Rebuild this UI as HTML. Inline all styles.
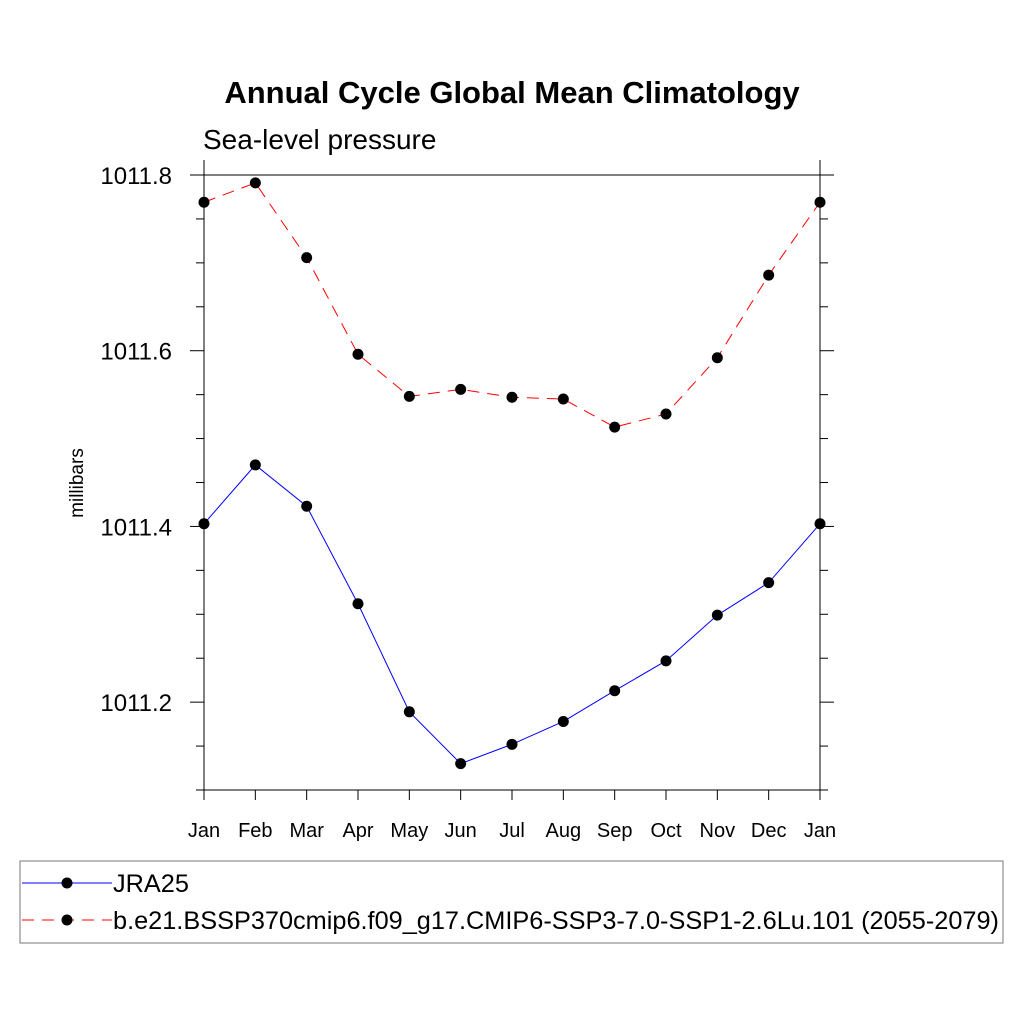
<!DOCTYPE html>
<html><head><meta charset="utf-8"><style>body{margin:0;background:#fff}svg{display:block}text{font-family:"Liberation Sans",sans-serif}</style></head>
<body>
<svg id="chart" width="1024" height="1024">
<text x="512" y="103" text-anchor="middle" font-size="31" font-weight="bold">Annual Cycle Global Mean Climatology</text>
<text x="203" y="149" font-size="28">Sea-level pressure</text>
<text transform="translate(83,483) rotate(-90)" text-anchor="middle" font-size="19">millibars</text>
<g id="axes"></g><g id="series"></g>
<rect x="20" y="861" width="983" height="82" fill="none" stroke="#777"/>
<line x1="22" y1="883" x2="112" y2="883" stroke="#00f"/>
<circle cx="67" cy="883" r="5.5"/>
<text x="113" y="892" font-size="25.3">JRA25</text>
<line x1="22" y1="920" x2="112" y2="920" stroke="#f00" stroke-dasharray="12,8"/>
<circle cx="67" cy="920" r="5.5"/>
<text x="113" y="929" font-size="25.3">b.e21.BSSP370cmip6.f09_g17.CMIP6-SSP3-7.0-SSP1-2.6Lu.101 (2055-2079)</text>
</svg>
<script>
const months=["Jan","Feb","Mar","Apr","May","Jun","Jul","Aug","Sep","Oct","Nov","Dec","Jan"];
const jra25=[1011.403,1011.470,1011.423,1011.312,1011.189,1011.130,1011.152,1011.178,1011.213,1011.247,1011.299,1011.336,1011.403];
const model=[1011.769,1011.791,1011.706,1011.596,1011.548,1011.556,1011.547,1011.545,1011.513,1011.528,1011.592,1011.686,1011.769];
const yTicks=[1011.2,1011.4,1011.6,1011.8];
const yMin=1011.1,yMax=1011.8,X0=204,X1=820,Y0=790,Y1=175;
const NS="http://www.w3.org/2000/svg";
const xs=i=>X0+(X1-X0)*i/(months.length-1);
const ys=v=>Y0-(v-yMin)/(yMax-yMin)*(Y0-Y1);
function mk(t,a,p){const e=document.createElementNS(NS,t);for(const k in a)e.setAttribute(k,a[k]);p.appendChild(e);return e;}
const ax=document.getElementById('axes'),sr=document.getElementById('series');
const frame=mk('rect',{x:X0,y:Y1,width:X1-X0,height:Y0-Y1,fill:'none',stroke:'#000','stroke-width':1},ax);


for(let v=yMin;v<=yMax+1e-9;v+=0.05){
  const y=ys(v);const maj=yTicks.some(t=>Math.abs(t-v)<1e-6);const L=maj?14:8;
  mk('line',{x1:X0-L,y1:y,x2:X0,y2:y,stroke:'#000'},ax);
  mk('line',{x1:X1,y1:y,x2:X1+L,y2:y,stroke:'#000'},ax);
}
yTicks.forEach(t=>{const e=mk('text',{x:X0-32,y:ys(t)+9,'text-anchor':'end','font-size':24},ax);e.textContent=t.toFixed(1);

});
months.forEach((m,i)=>{const x=xs(i);mk('line',{x1:x,y1:Y0,x2:x,y2:Y0+10,stroke:'#000'},ax);
const e=mk('text',{x:x,y:Y0+47,'text-anchor':'middle','font-size':20},ax);e.textContent=m;

});
mk('line',{x1:X0,y1:Y1-15,x2:X0,y2:Y1,stroke:'#000'},ax);
mk('line',{x1:X1,y1:Y1-15,x2:X1,y2:Y1,stroke:'#000'},ax);
function series(vals,color,dash,name){
  const p=mk('polyline',{points:vals.map((v,i)=>xs(i)+','+ys(v)).join(' '),fill:'none',stroke:color,'stroke-dasharray':dash},sr);
  
  
  vals.forEach((v,i)=>{const c=mk('circle',{cx:xs(i),cy:ys(v),r:5.5,fill:'#000'},sr);
  
  });
}
series(jra25,'#00f','none','jra25');
series(model,'#f00','12,8','model');
</script>
</body></html>
